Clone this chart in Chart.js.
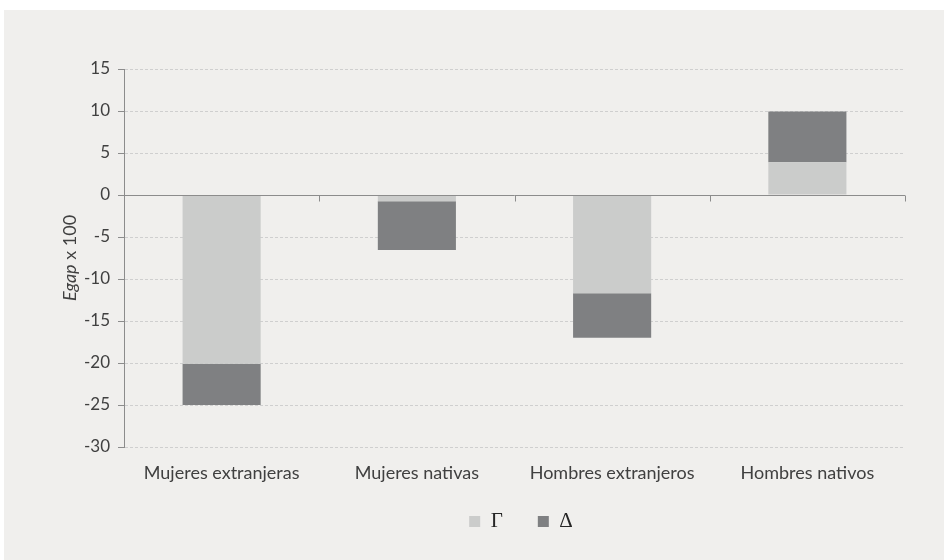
<!DOCTYPE html>
<html>
<head>
<meta charset="utf-8">
<script src="https://cdn.jsdelivr.net/npm/chart.js@4"></script>
<style>
  html, body { margin: 0; padding: 0; background: #fff; }
  #wrap { position: absolute; left: 0; top: 0; width: 944px; height: 560px; }
</style>
</head>
<body>
<div id="wrap"><canvas id="c" width="944" height="560"></canvas></div>
<script>
// datos
const categorias = ['Mujeres extranjeras', 'Mujeres nativas', 'Hombres extranjeros', 'Hombres nativos'];
const gamma = [-20.1, -0.75, -11.7, 3.9];
const delta = [-4.9, -5.8, -5.3, 6.05];
const yTicks = [15, 10, 5, 0, -5, -10, -15, -20, -25, -30];

const fondo = {
    id: 'fondo',
    beforeDraw(chart) {
        const ctx = chart.ctx;
        ctx.save();
        ctx.fillStyle = '#ffffff';
        ctx.fillRect(0, 0, chart.width, chart.height);
        ctx.fillStyle = '#f0efed';
        ctx.fillRect(4, 10, chart.width - 4, chart.height - 10);
        ctx.restore();
    }
};

// leyenda centrada sobre el área del gráfico y un poco más arriba
const leyenda = {
    id: 'leyenda',
    afterLayout(chart) {
        const l = chart.legend, a = chart.chartArea;
        l.left = a.left;
        l.right = a.right + 13;
        l.top -= 7;
        l.bottom -= 7;
    }
};

// línea del cero con las marcas entre categorías + título del eje Y
const ejes = {
    id: 'ejes',
    afterDatasetsDraw(chart) {
        const ctx = chart.ctx, y = chart.scales.y, a = chart.chartArea;
        const y0 = Math.round(y.getPixelForValue(0)) + 0.5;
        ctx.save();
        ctx.strokeStyle = '#8c8c8c';
        ctx.lineWidth = 1;
        ctx.beginPath();
        ctx.moveTo(a.left, y0); ctx.lineTo(a.right, y0);
        const paso = (a.right - a.left) / categorias.length;
        for (let i = 0; i <= categorias.length; i++) {
            const px = Math.round(a.left + i * paso) + 0.5;
            ctx.moveTo(px, y0); ctx.lineTo(px, y0 + 6);
        }
        ctx.stroke();

        // título "Egap x 100"
        ctx.translate(a.left - 54, (a.top + a.bottom) / 2);
        ctx.rotate(-Math.PI / 2);
        ctx.fillStyle = '#404040';
        ctx.textBaseline = 'middle';
        ctx.font = 'italic 18px Lato';
        const w1 = ctx.measureText('Egap').width;
        ctx.font = '18px Lato';
        const w2 = ctx.measureText(' x 100').width;
        const sx = -(w1 + w2) / 2;
        ctx.font = 'italic 18px Lato';
        ctx.fillText('Egap', sx, 0);
        ctx.font = '18px Lato';
        ctx.fillText(' x 100', sx + w1, 0);
        ctx.restore();
    }
};

new Chart(document.getElementById('c'), {
    type: 'bar',
    data: {
        labels: categorias,
        datasets: [
            { label: 'Γ', data: gamma, backgroundColor: '#cbcccb', barPercentage: 0.4, categoryPercentage: 1 },
            { label: 'Δ', data: delta, backgroundColor: '#7f8082', barPercentage: 0.4, categoryPercentage: 1 }
        ]
    },
    options: {
        responsive: false,
        animation: false,
        layout: { padding: { left: 0, right: 39, top: 69, bottom: 11 } },
        plugins: {
            tooltip: { enabled: false },
            legend: {
                position: 'bottom',
                labels: {
                    boxWidth: 11, boxHeight: 11, padding: 35,
                    color: '#262626',
                    font: { family: 'Liberation Serif', size: 21 }
                }
            }
        },
        scales: {
            x: {
                stacked: true,
                grid: { display: false },
                border: { display: false },
                ticks: { color: '#404040', font: { family: 'Lato', size: 18 }, padding: 7 },
                afterFit: s => { s.height = 36; }
            },
            y: {
                stacked: true,
                min: -30, max: 15,
                afterBuildTicks: s => { s.ticks = yTicks.map(v => ({ value: v })); },
                grid: { color: '#cfcfcf', tickColor: '#8c8c8c', tickLength: 6 },
                border: { color: '#8c8c8c', dash: [3, 2] },
                ticks: { color: '#404040', font: { family: 'Lato', size: 17 }, padding: 8 },
                afterFit: s => { s.width = 124; }
            }
        }
    },
    plugins: [fondo, leyenda, ejes]
});
</script>
</body>
</html>
